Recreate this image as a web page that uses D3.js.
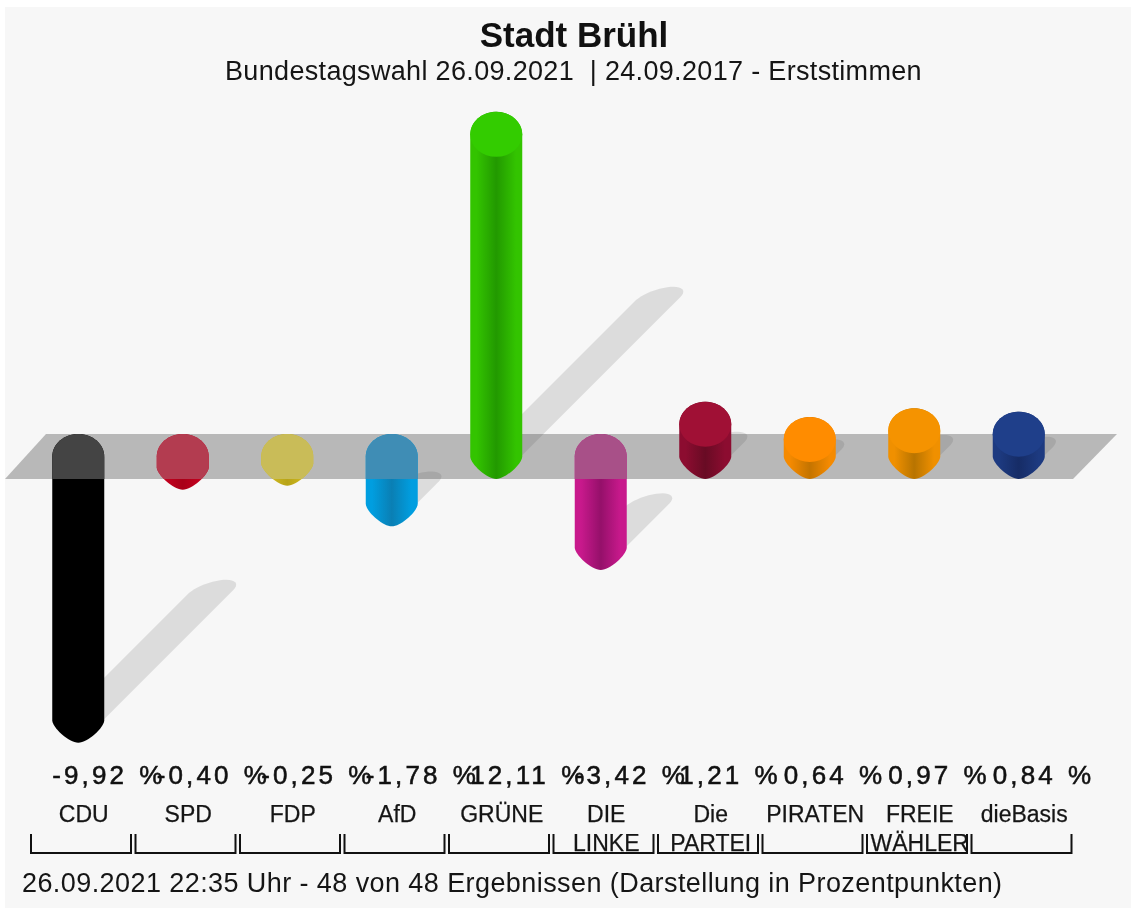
<!DOCTYPE html>
<html><head><meta charset="utf-8">
<script src="https://cdn.jsdelivr.net/npm/d3@7/dist/d3.min.js"></script>
<style>html,body{margin:0;padding:0;background:#fff}svg{display:block;filter:blur(.55px)}text{font-family:"Liberation Sans",Arial,sans-serif}</style>
</head><body><div id="c"></div>
<script>
const parties=["CDU","SPD","FDP","AfD","GRÜNE","DIE LINKE","Die PARTEI","PIRATEN","FREIE WÄHLER","dieBasis"];
const nameLines=[["CDU"],["SPD"],["FDP"],["AfD"],["GRÜNE"],["DIE","LINKE"],["Die","PARTEI"],["PIRATEN"],["FREIE","WÄHLER"],["dieBasis"]];
const values=[-9.92,-0.40,-0.25,-1.78,12.11,-3.42,1.21,0.64,0.97,0.84];
const valueLabels=["-9,92 %","-0,40 %","-0,25 %","-1,78 %","12,11 %","-3,42 %","1,21 %","0,64 %","0,97 %","0,84 %"];
const edgeColors=["#000000","#c8001f","#d2bc20","#009ee0","#33c400","#c8198c","#8c0c30","#f58a00","#f09000","#1d3a80"];
const midColors=["#000000","#a80018","#b8a418","#0a7fb4","#229900","#95106a","#680b24","#c47400","#b87400","#162c66"];
const capColors=["#444444","#b33c50","#c9bc58","#3f8db5","#33cc00","#a85088","#a01035","#ff8c00","#f59300","#1f3f8a"];
const W=1131,H=911,barR=26,capR=22.5,planeY0=479,planeY1=434;
const x=d3.scaleBand().domain(parties).range([26,1071]);
const cx=p=>x(p)+x.bandwidth()/2;
const y=d3.scaleLinear().domain([0,1]).range([456.5,429.9]);
const svg=d3.select("#c").append("svg").attr("width",W).attr("height",H);
svg.append("rect").attr("x",5).attr("y",7).attr("width",W-5).attr("height",901).attr("fill","#f7f7f7");
const defs=svg.append("defs");
parties.forEach((p,i)=>{
  const g=defs.append("linearGradient").attr("id","g"+i);
  [[0,edgeColors[i]],[.12,edgeColors[i]],[.5,midColors[i]],[.88,edgeColors[i]],[1,edgeColors[i]]].forEach(s=>g.append("stop").attr("offset",s[0]).attr("stop-color",s[1]));
});
const planePath=d3.line()([[5,planeY0],[46,planeY1],[1117,planeY1],[1073,planeY0]]);
defs.append("clipPath").attr("id","aboveEdge").append("rect").attr("x",0).attr("y",0).attr("width",W).attr("height",planeY0);
defs.append("clipPath").attr("id","planeClip").append("path").attr("d",planePath);
const ends=v=>v>=0?[y(v),y(0)]:[y(0),y(v)];
const barPath=(c,t,b)=>{const p=d3.path();
  p.moveTo(c-barR,t);p.lineTo(c-barR,b);
  p.bezierCurveTo(c-barR,b+capR*.32,c-barR*.36,b+capR,c,b+capR);
  p.bezierCurveTo(c+barR*.36,b+capR,c+barR,b+capR*.32,c+barR,b);
  p.lineTo(c+barR,t);
  p.bezierCurveTo(c+barR,t-capR*.55,c+barR*.55,t-capR,c,t-capR);
  p.bezierCurveTo(c-barR*.55,t-capR,c-barR,t-capR*.55,c-barR,t);p.closePath();return p.toString();};
const shadowPath=(p,i)=>{
  const v=values[i],b=ends(v)[1],c=cx(p),len=Math.abs(y(v)-y(0))*.5,pts=[];
  d3.range(0,6.29,.15).forEach(a=>{
    const ex=barR*Math.cos(a),ey=4+10*Math.sin(a)-.3*barR*Math.cos(a);
    if(ex>=0) pts.push([c+ex,b+ey]);
    pts.push([c+len+ex,b-len+ey]);
    // keep the strip's upper edge at 45 degrees until it passes behind the bar
    if(ex<0 && len>barR) pts.push([c+len+ex-(len-barR),b-len+ey+(len-barR)]);
  });
  return d3.line().curve(d3.curveLinearClosed)(d3.polygonHull(pts));
};
const shown=parties.map((p,i)=>[p,i]).filter(([p,i])=>Math.abs(values[i])>=.5);
shown.forEach(([p,i])=>svg.append("path").attr("d",shadowPath(p,i)).attr("fill","#000").attr("opacity",.105));
svg.append("path").attr("d",planePath).attr("fill","#b8b8b8");
shown.forEach(([p,i])=>svg.append("path").attr("d",shadowPath(p,i)).attr("fill","#000").attr("opacity",.09).attr("clip-path","url(#planeClip)"));
parties.forEach((p,i)=>{
  const [t,b]=ends(values[i]),c=cx(p),d=barPath(c,t,b);
  svg.append("path").attr("d",d).attr("fill",`url(#g${i})`);
  if(values[i]<0) svg.append("path").attr("d",d).attr("fill",capColors[i]).attr("clip-path","url(#aboveEdge)");
  else svg.append("ellipse").attr("cx",c).attr("cy",t).attr("rx",barR).attr("ry",capR).attr("fill",capColors[i]);
});
const ink="#151515";
svg.append("text").attr("x",574).attr("y",47).attr("text-anchor","middle").attr("font-size",35).attr("font-weight",700).attr("fill","#111").text("Stadt Brühl");
svg.append("text").attr("x",573.5).attr("y",80).attr("text-anchor","middle").attr("font-size",27).attr("letter-spacing",.33).style("white-space","pre").attr("fill",ink).text("Bundestagswahl 26.09.2021  | 24.09.2017 - Erststimmen");
parties.forEach((p,i)=>{
  const c=cx(p);
  svg.append("text").attr("x",c-26).attr("y",784).attr("font-size",26).attr("letter-spacing",3.1).attr("word-spacing",2).attr("fill","#111").attr("stroke","#111").attr("stroke-width",.55).text(valueLabels[i]);
  nameLines[i].forEach((l,k)=>svg.append("text").attr("x",c+5.5).attr("y",822+k*29).attr("text-anchor","middle").attr("font-size",23).attr("fill",ink).attr("stroke",ink).attr("stroke-width",.25).text(l));
  const bl=x(p)+5,br=bl+100;
  svg.append("path").attr("d",d3.line()([[bl,834],[bl,853],[br,853],[br,834]])).attr("fill","none").attr("stroke","#111").attr("stroke-width",2);
});
svg.append("text").attr("x",22).attr("y",892).attr("font-size",27).attr("letter-spacing",.42).attr("fill",ink).text("26.09.2021 22:35 Uhr - 48 von 48 Ergebnissen (Darstellung in Prozentpunkten)");
</script></body></html>
